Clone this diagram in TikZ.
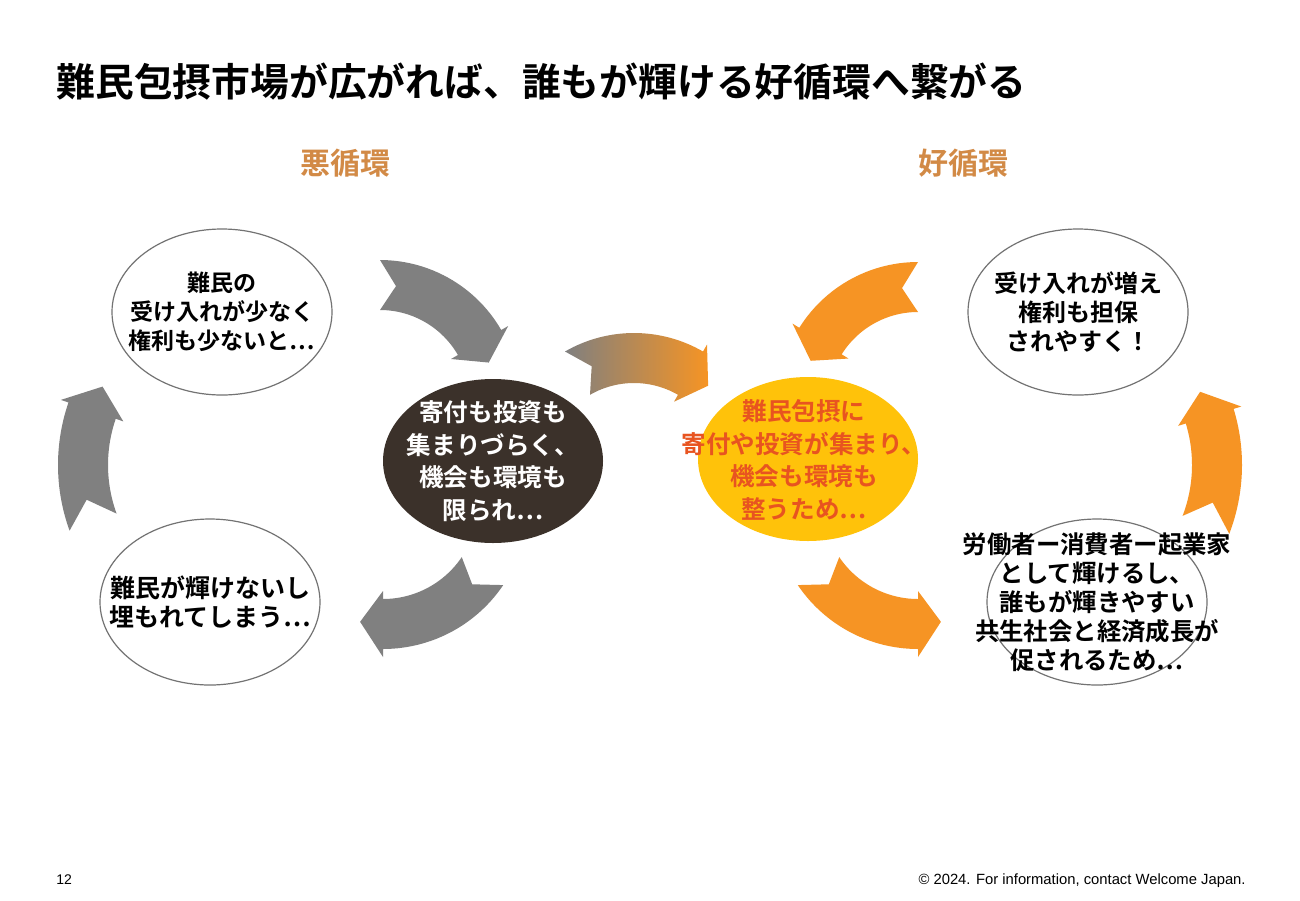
\documentclass[tikz,border=0pt]{standalone}
\usepackage{fontspec}
\setmainfont{Noto Sans CJK JP Bold}
\newfontfamily\footfont{Liberation Sans}
\usetikzlibrary{shapes.geometric}

\begin{document}
\begin{tikzpicture}[x=0.5pt, y=-0.5pt]
  \colorlet{arrowGray}{black!50}
  \definecolor{arrowOrange}{RGB}{246,148,36}
  \definecolor{headBrown}{RGB}{210,138,70}
  \definecolor{darkCore}{RGB}{59,49,42}
  \definecolor{goldCore}{RGB}{255,194,10}
  \definecolor{goldText}{RGB}{232,84,32}
  \colorlet{rimGray}{black!55}

  \tikzset{
    bubble/.style={ellipse, draw=rimGray, line width=0.6pt,
                   minimum width=110pt, minimum height=83pt, inner sep=0pt},
    core/.style={ellipse, minimum width=110pt, minimum height=82pt, inner sep=0pt},
    bubbletext/.style={align=center, font=\fontsize{#1}{14.5}\selectfont, inner sep=0pt},
    bubbletext/.default=12,
    coretext/.style={align=center, font=\fontsize{12.3}{16.3}\selectfont, inner sep=0pt},
    headtext/.style={font=\fontsize{15}{18}\selectfont, text=headBrown},
    foottext/.style={font=\footfont\fontsize{#1}{8}\selectfont, inner sep=0pt},
    foottext/.default=7
  }

  % band arrow: style, centre x, centre y, mid radius, tail angle, head angle, tip angle
  \def\bandarrow#1#2#3#4#5#6#7{%
    \pgfmathsetmacro{\notch}{(#5)+8*sign((#6)-(#5))}
    \path[#1] plot[domain=#5:#6, samples=30] ({#2+(#4+25)*cos(\x)},{#3+(#4+25)*sin(\x)})
      -- ({#2+(#4+33)*cos(#6)},{#3+(#4+33)*sin(#6)})
      -- ({#2+#4*cos(#7)},{#3+#4*sin(#7)})
      -- ({#2+(#4-33)*cos(#6)},{#3+(#4-33)*sin(#6)})
      -- plot[domain=#6:#5, samples=30] ({#2+(#4-25)*cos(\x)},{#3+(#4-25)*sin(\x)})
      -- ({#2+#4*cos(\notch)},{#3+#4*sin(\notch)}) -- cycle;
  }

  \useasboundingbox[fill=white] (0,0) rectangle (1300,900);

  %--- Title and headings ---
  \node[font=\fontsize{19.4}{22}\selectfont, anchor=west, inner sep=0pt] (title) at (56,82)
    {難民包摂市場が広がれば、誰もが輝ける好循環へ繋がる};
  \node[headtext] (badHead)  at (345,163) {悪循環};
  \node[headtext] (goodHead) at (963,163) {好循環};

  %--- Arrows of the vicious circle ---
  \bandarrow{fill=arrowGray}{380}{400}{115}{-90}{-30}{-19}
  \bandarrow{fill=arrowGray}{383}{504}{120}{34}{90}{101}
  \bandarrow{fill=arrowGray}{250}{465}{167}{160}{199}{208}

  %--- Bridge arrow (gray to orange) ---
  \bandarrow{left color=arrowGray, right color=arrowOrange}{634}{471}{113}{-120}{-60}{-49}

  %--- Arrows of the virtuous circle ---
  \bandarrow{fill=arrowOrange}{918}{402}{115}{270}{212}{201}
  \bandarrow{fill=arrowOrange}{1050}{465}{167}{21}{-17}{-26}
  \bandarrow{fill=arrowOrange}{918}{504}{120}{146}{90}{79}

  %--- Vicious circle ---
  \node[bubble] (lowAccept) at (222,312) {};
  \node[bubbletext=11.5] (lowAcceptText) at (lowAccept) {難民の\\受け入れが少なく\\権利も少ないと…};
  \node[bubble] (buried) at (210,602) {};
  \node[bubbletext=12.5] (buriedText) at (buried) {難民が輝けないし\\埋もれてしまう…};
  \node[core, fill=darkCore] (scarce) at (493,461) {};
  \node[coretext, text=white] (scarceText) at (scarce) {寄付も投資も\\集まりづらく、\\機会も環境も\\限られ…};

  %--- Virtuous circle ---
  \node[core, fill=goldCore] (inclusion) at (808,459) {};
  \node[coretext, text=goldText] (inclusionText) at (804,460)
    {難民包摂に\\寄付や投資が集まり、\\機会も環境も\\整うため…};
  \node[bubble] (rights) at (1078,312) {};
  \node[bubbletext] (rightsText) at (rights) {受け入れが増え\\権利も担保\\されやすく！};
  \node[bubble] (coexist) at (1097,602) {};
  \node[bubbletext=12.2] (coexistText) at (coexist)
    {労働者ー消費者ー起業家\\として輝けるし、\\誰もが輝きやすい\\共生社会と経済成長が\\促されるため…};

  %--- Footer ---
  \node[foottext, anchor=west] (pageNo) at (56,880) {12};
  \node[foottext=7.4, anchor=east] (credit) at (1246,881) {© 2024. For information, contact Welcome Japan.};

\end{tikzpicture}
\end{document}
